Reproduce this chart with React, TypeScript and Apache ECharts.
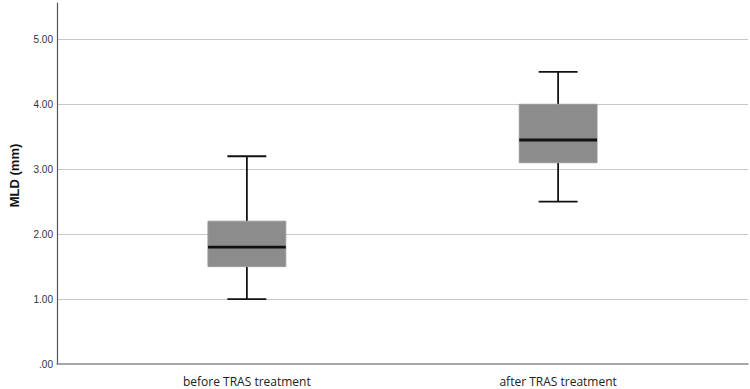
import React, { useEffect, useRef } from "react";
import * as echarts from "echarts";

const categories = ["before TRAS treatment", "after TRAS treatment"];
const whiskerLow = [1.0, 2.5];
const quartile1 = [1.5, 3.1];
const medians = [1.8, 3.45];
const quartile3 = [2.2, 4.0];
const whiskerHigh = [3.2, 4.5];
const yAxisName = "MLD (mm)";

export default function App() {
  const ref = useRef<HTMLDivElement>(null);

  useEffect(() => {
    if (!ref.current) return;
    const chart = echarts.init(ref.current, null, { renderer: "svg" });
    const data = categories.map((_, i) => [
      i,
      whiskerLow[i],
      quartile1[i],
      medians[i],
      quartile3[i],
      whiskerHigh[i],
    ]);

    const option: any = {
      animation: false,
      backgroundColor: "#ffffff",
      grid: { left: 56, right: 2, top: 3, bottom: 25 },
      xAxis: {
        type: "value",
        min: -0.61,
        max: 1.61,
        axisLine: { show: true, onZero: false, lineStyle: { color: "#8a8a8a", width: 1.5 } },
        axisTick: { show: false },
        splitLine: { show: false },
        axisLabel: {
          customValues: categories.map((_, i) => i),
          formatter: (v: number) => categories[Math.round(v)] ?? "",
          fontFamily: "Open Sans",
          fontSize: 12,
          color: "#222",
          margin: 11,
        },
      },
      yAxis: {
        type: "value",
        min: 0,
        max: 5.56,
        interval: 1,
        name: yAxisName,
        nameLocation: "middle",
        nameGap: 36,
        nameTextStyle: {
          fontFamily: "Liberation Sans",
          fontWeight: "bold",
          fontSize: 13,
          color: "#111",
          padding: [0, 0, 0, 16],
        },
        axisLine: { show: true, onZero: false, lineStyle: { color: "#555", width: 1.2 } },
        axisTick: { show: false },
        axisLabel: {
          showMaxLabel: false,
          formatter: (v: number) => (v === 0 ? ".00" : v.toFixed(2)),
          fontFamily: "Liberation Sans",
          fontSize: 10,
          color: "#333",
          margin: 4,
        },
        splitLine: {
          show: true,
          showMinLine: false,
          showMaxLine: false,
          lineStyle: { color: "#c8c8c8", width: 1.2 },
        },
      },
      series: [
        {
          type: "custom",
          data,
          encode: { x: 0, y: [1, 2, 3, 4, 5] },
          renderItem: (params: any, api: any) => {
            const x = api.value(0);
            const pLow = api.coord([x, api.value(1)]);
            const pQ1 = api.coord([x, api.value(2)]);
            const pMed = api.coord([x, api.value(3)]);
            const pQ3 = api.coord([x, api.value(4)]);
            const pHigh = api.coord([x, api.value(5)]);
            const band = api.size([1, 0])[0];
            const boxW = band * 0.25;
            const capW = band * 0.125;
            const cx = pMed[0];
            const lineStyle = { stroke: "#111", lineWidth: 1.8 };
            return {
              type: "group",
              children: [
                {
                  type: "line",
                  shape: { x1: cx, y1: pQ3[1], x2: cx, y2: pHigh[1] },
                  style: lineStyle,
                },
                {
                  type: "line",
                  shape: { x1: cx, y1: pQ1[1], x2: cx, y2: pLow[1] },
                  style: lineStyle,
                },
                {
                  type: "line",
                  shape: { x1: cx - capW / 2, y1: pHigh[1], x2: cx + capW / 2, y2: pHigh[1] },
                  style: lineStyle,
                },
                {
                  type: "line",
                  shape: { x1: cx - capW / 2, y1: pLow[1], x2: cx + capW / 2, y2: pLow[1] },
                  style: lineStyle,
                },
                {
                  type: "rect",
                  shape: { x: cx - boxW / 2, y: pQ3[1], width: boxW, height: pQ1[1] - pQ3[1] },
                  style: { fill: "#8c8c8c", stroke: "#999", lineWidth: 1 },
                },
                {
                  type: "line",
                  shape: { x1: cx - boxW / 2, y1: pMed[1], x2: cx + boxW / 2, y2: pMed[1] },
                  style: { stroke: "#111", lineWidth: 2.8 },
                },
              ],
            };
          },
        },
      ],
    };

    chart.setOption(option);
    return () => chart.dispose();
  }, []);

  return (
    <div
      ref={ref}
      style={{ position: "fixed", left: 0, top: 0, width: 750, height: 389 }}
    />
  );
}
